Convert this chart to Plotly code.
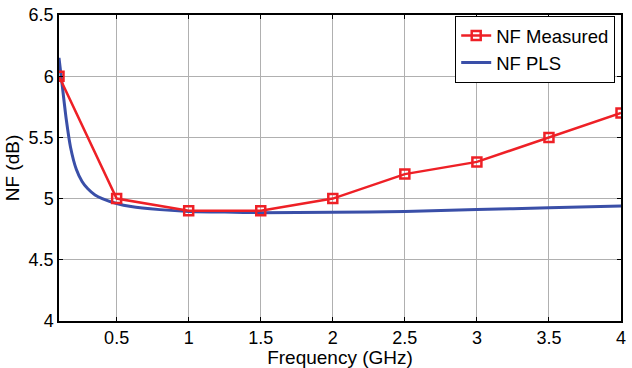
import plotly.graph_objects as go

freq_meas = [0.1, 0.5, 1.0, 1.5, 2.0, 2.5, 3.0, 3.5, 4.0]
nf_meas = [6.0, 5.0, 4.9, 4.9, 5.0, 5.2, 5.3, 5.5, 5.7]

freq_pls = [0.1, 0.12, 0.15, 0.18, 0.22, 0.26, 0.3, 0.35, 0.4, 0.5, 0.6, 0.8,
            1.0, 1.25, 1.5, 2.0, 2.5, 3.0, 3.5, 4.0]
nf_pls = [6.15, 5.95, 5.65, 5.42, 5.24, 5.14, 5.08, 5.03, 5.0, 4.96, 4.935, 4.91,
          4.895, 4.89, 4.885, 4.888, 4.895, 4.91, 4.925, 4.94]

x_ticks = [0.5, 1, 1.5, 2, 2.5, 3, 3.5, 4]
y_ticks = [4, 4.5, 5, 5.5, 6, 6.5]

FONT = "Liberation Sans, Arial, sans-serif"

fig = go.Figure()
fig.add_trace(go.Scatter(x=freq_pls, y=nf_pls, mode="lines", name="NF PLS",
                         line=dict(color="#3a4fa8", width=3, shape="spline", smoothing=0.6)))
fig.add_trace(go.Scatter(x=freq_meas, y=nf_meas, mode="lines+markers", name="NF Measured",
                         line=dict(color="#ee2026", width=2.5),
                         marker=dict(symbol="square-open", size=9, color="#ee2026",
                                     line=dict(width=2.5, color="#ee2026"))))

axis_common = dict(showline=True, linecolor="black", linewidth=1.5, mirror="ticks",
                   ticks="inside", ticklen=4, tickcolor="black", automargin=False,
                   showgrid=True, gridcolor="#b0b0b0", gridwidth=1, zeroline=False,
                   tickfont=dict(family=FONT, size=18, color="black"))

fig.update_layout(
    width=632, height=368,
    margin=dict(l=59, r=11, t=15, b=47),
    paper_bgcolor="white", plot_bgcolor="white",
    font=dict(family=FONT, size=18, color="black"),
    showlegend=True,
    legend=dict(x=0.705, y=0.997, xanchor="left", yanchor="top",
                bgcolor="white", bordercolor="black", borderwidth=1,
                font=dict(size=18.5), traceorder="reversed", itemwidth=30,
                tracegroupgap=0),
    xaxis=dict(range=[0.1, 4], tickvals=x_ticks, ticktext=[f"{v:g}" for v in x_ticks],
               title=dict(text="Frequency (GHz)", standoff=0, font=dict(size=19)),
               **axis_common),
    yaxis=dict(range=[4, 6.5], tickvals=y_ticks, ticktext=[f"{v:g}" for v in y_ticks],
               title=dict(text="NF (dB)", standoff=4, font=dict(size=19)),
               **axis_common),
)

fig.write_html("out.html", config={"displayModeBar": False},
               post_script="document.body.style.margin='0';document.body.style.overflow='hidden';")
